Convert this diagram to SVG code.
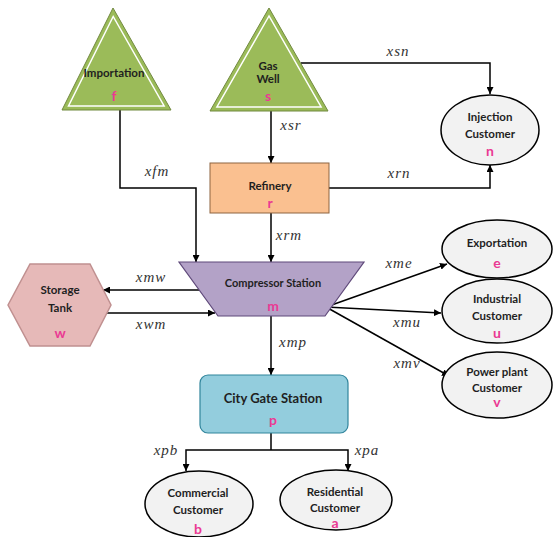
<svg xmlns="http://www.w3.org/2000/svg" width="554" height="537" viewBox="0 0 554 537">
<defs>
<marker id="arr" viewBox="0 0 10 10" refX="10" refY="5" markerWidth="7" markerHeight="7" markerUnits="userSpaceOnUse" orient="auto">
<path d="M0,0 L10,5 L0,10 z" fill="#000"/>
</marker>
<style>
.ln{fill:none;stroke:#000;stroke-width:1.5;marker-end:url(#arr)}
.pl{fill:none;stroke:#000;stroke-width:1.5}
.t{font-family:Lato,"Liberation Sans",sans-serif;font-weight:bold;font-size:11.5px;fill:#1f1f1f;text-anchor:middle}
.k{font-family:Lato,"Liberation Sans",sans-serif;font-weight:bold;font-size:14px;fill:#ea3a93;text-anchor:middle}
.lab{font-family:"Liberation Serif","Times New Roman",serif;font-style:italic;font-size:15px;fill:#333;text-anchor:middle;letter-spacing:1px}
.ell{fill:#f2f2f2;stroke:#000;stroke-width:1.5}
.tri{fill:#9bbb59;stroke:#71893f;stroke-width:1}
.tri2{fill:none;stroke:#fff;stroke-width:1.5}
</style>
</defs>
<rect width="554" height="537" fill="#fff"/>
<g id="connectors">
<polyline class="ln" points="301,63 490,63 490,94"/>
<polyline class="ln" points="329,188 490,188 490,165"/>
<line class="ln" x1="271" y1="111" x2="271" y2="163"/>
<line class="ln" x1="271" y1="213" x2="271" y2="262"/>
<polyline class="ln" points="120,110 120,188 196,188 196,262"/>
<line class="ln" x1="199" y1="290" x2="103" y2="290"/>
<line class="ln" x1="106" y1="313" x2="215" y2="313"/>
<line class="ln" x1="326" y1="307" x2="447" y2="264"/>
<line class="ln" x1="326" y1="307" x2="441" y2="313"/>
<line class="ln" x1="326" y1="307" x2="449" y2="376"/>
<line class="ln" x1="271" y1="316" x2="271" y2="375"/>
<polyline class="pl" points="271,433 271,450"/>
<polyline class="ln" points="271,450 186,450 186,471"/>
<polyline class="ln" points="271,450 348,450 348,471"/>
<text class="lab" x="398" y="56">xsn</text>
<text class="lab" x="291" y="130">xsr</text>
<text class="lab" x="399" y="178">xrn</text>
<text class="lab" x="157" y="176">xfm</text>
<text class="lab" x="289" y="240">xrm</text>
<text class="lab" x="151" y="282">xmw</text>
<text class="lab" x="151" y="329">xwm</text>
<text class="lab" x="399" y="268">xme</text>
<text class="lab" x="407" y="327">xmu</text>
<text class="lab" x="407" y="368">xmv</text>
<text class="lab" x="293" y="347">xmp</text>
<text class="lab" x="166" y="455">xpb</text>
<text class="lab" x="367" y="455">xpa</text>
</g>
<g id="importation">
<polygon class="tri" points="113,8 62,110 171,110"/>
<polygon class="tri2" points="113.2,16.5 68.5,106 164.1,106"/>
<text class="t" x="114" y="77">Importation</text>
<text class="k" x="114" y="101">f</text>
</g>
<g id="gaswell">
<polygon class="tri" points="269,8 210,111 328,111"/>
<polygon class="tri2" points="269,16 216.9,107 321.1,107"/>
<text class="t" x="268" y="70">Gas</text>
<text class="t" x="268" y="83">Well</text>
<text class="k" x="268" y="101">s</text>
</g>
<g id="injection">
<ellipse class="ell" cx="490" cy="130" rx="49" ry="35"/>
<text class="t" x="490" y="121">Injection</text>
<text class="t" x="490" y="138">Customer</text>
<text class="k" x="490" y="156">n</text>
</g>
<g id="refinery">
<rect x="210" y="163" width="119" height="50" fill="#fac090" stroke="#8e6440" stroke-width="1"/>
<text class="t" x="270" y="190">Refinery</text>
<text class="k" x="270" y="208">r</text>
</g>
<g id="compressor">
<polygon points="179,262 364,262 325,316 218,316" fill="#b3a2c7" stroke="#5f497a" stroke-width="1.2"/>
<text class="t" x="273" y="287" style="font-size:11px">Compressor Station</text>
<text class="k" x="273" y="311">m</text>
</g>
<g id="storage">
<polygon points="8,305 30,264 90,264 111,305 90,346 30,346" fill="#e6b9b8" stroke="#c09090" stroke-width="1.5"/>
<text class="t" x="60" y="294">Storage</text>
<text class="t" x="60" y="312">Tank</text>
<text class="k" x="60" y="338">w</text>
</g>
<g id="exportation">
<ellipse class="ell" cx="497" cy="249" rx="55" ry="29"/>
<text class="t" x="497" y="247">Exportation</text>
<text class="k" x="497" y="268">e</text>
</g>
<g id="industrial">
<ellipse class="ell" cx="497" cy="311" rx="55" ry="32"/>
<text class="t" x="497" y="303">Industrial</text>
<text class="t" x="497" y="320">Customer</text>
<text class="k" x="497" y="338">u</text>
</g>
<g id="powerplant">
<ellipse class="ell" cx="497" cy="385" rx="55" ry="33"/>
<text class="t" x="497" y="376">Power plant</text>
<text class="t" x="497" y="392">Customer</text>
<text class="k" x="497" y="407">v</text>
</g>
<g id="citygate">
<rect x="200" y="375" width="148" height="58" rx="8" ry="8" fill="#93cddd" stroke="#31859c" stroke-width="1.2"/>
<text class="t" x="273" y="403" style="font-size:13px">City Gate Station</text>
<text class="k" x="273" y="425">p</text>
</g>
<g id="commercial">
<ellipse class="ell" cx="199" cy="504" rx="54" ry="33"/>
<text class="t" x="198" y="497">Commercial</text>
<text class="t" x="198" y="514">Customer</text>
<text class="k" x="198" y="534">b</text>
</g>
<g id="residential">
<ellipse class="ell" cx="336" cy="500" rx="56" ry="30"/>
<text class="t" x="335" y="496">Residential</text>
<text class="t" x="335" y="512">Customer</text>
<text class="k" x="335" y="528">a</text>
</g>
</svg>
